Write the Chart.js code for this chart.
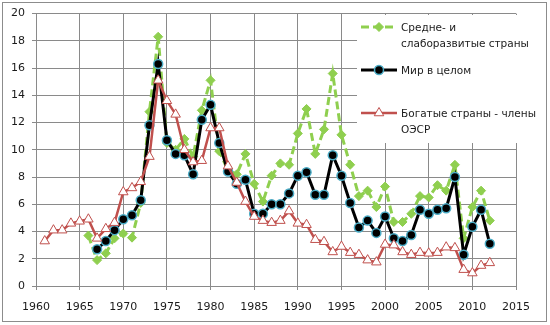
<!DOCTYPE html>
<html>
<head>
<meta charset="utf-8">
<script src="https://cdn.jsdelivr.net/npm/chart.js@4"></script>
<style>
  html, body { margin: 0; padding: 0; background: #fff; }
  #wrap { width: 550px; height: 325px; }
</style>
</head>
<body>
<div id="wrap"><canvas id="c" width="550" height="325"></canvas></div>
<script>
// series names (legend)
const seriesNames = [
  ["Средне- и", "слаборазвитые страны"],
  ["Мир в целом"],
  ["Богатые страны - члены", "ОЭСР"]
];

// middle & low income countries, 1966-2012
const devStart = 1966;
const devValues = [
  3.7, 1.9, 2.4, 3.5, 3.85, 3.55, 6.1, 12.8, 18.3, 10.5,
  10.0, 10.8, 9.5, 12.9, 15.1, 9.9, 8.5, 8.2, 9.7, 7.5,
  6.2, 8.1, 9.0, 8.9, 11.2, 13.0, 9.7, 11.5, 15.6, 11.1,
  8.9, 6.6, 7.0, 5.8, 7.3, 4.7, 4.7, 5.3, 6.6, 6.5,
  7.4, 7.0, 8.9, 3.5, 5.8, 7.0, 4.8
];

// world, 1967-2012
const worldStart = 1967;
const worldValues = [
  2.7, 3.3, 4.1, 4.9, 5.2, 6.3, 11.8, 16.3, 10.7, 9.7,
  9.6, 8.2, 12.2, 13.3, 10.5, 8.4, 7.5, 7.8, 5.3, 5.3,
  6.0, 6.0, 6.8, 8.1, 8.35, 6.7, 6.7, 9.6, 8.1, 6.1,
  4.3, 4.8, 3.9, 5.1, 3.5, 3.3, 3.75, 5.6, 5.3, 5.6,
  5.7, 8.0, 2.3, 4.35, 5.6, 3.1
];

// rich OECD countries, 1961-2012
const oecdStart = 1961;
const oecdValues = [
  3.3, 4.1, 4.1, 4.6, 4.75, 4.9, 3.5, 4.2, 4.65, 6.9,
  7.2, 7.65, 9.5, 15.1, 13.6, 12.6, 10.0, 9.1, 9.2, 11.6,
  11.6, 8.8, 7.6, 6.2, 5.1, 4.8, 4.65, 4.8, 5.5, 4.6,
  4.5, 3.4, 3.25, 2.5, 2.9, 2.45, 2.3, 1.9, 1.75, 3.05,
  3.0, 2.5, 2.3, 2.45, 2.4, 2.45, 2.85, 2.8, 1.2, 0.95,
  1.5, 1.7
];

const xMin = 1960, xMax = 2015, xStep = 5;
const yMin = 0, yMax = 20, yStep = 2;

function toPoints(start, vals) {
  return vals.map((v, i) => ({ x: start + i, y: v }));
}

const FONT = "'DejaVu Sans', sans-serif";
const gridColor = "#8a8a8a";

// draws the outer frame
const framePlugin = {
  id: "frame",
  beforeDraw(chart) {
    const ctx = chart.ctx;
    ctx.save();
    ctx.fillStyle = "#fff";
    ctx.fillRect(0, 0, chart.width, chart.height);
    ctx.strokeStyle = "#8c8c8c";
    ctx.lineWidth = 1;
    ctx.strokeRect(2.5, 2.5, 544, 319);
    ctx.restore();
  }
};

// excel-like legend sitting over the top right of the plot
const legendPlugin = {
  id: "sideLegend",
  afterDatasetsDraw(chart) {
    const ctx = chart.ctx;
    const sampleY = [27, 70, 113];
    ctx.save();
    ctx.fillStyle = "#fff";
    ctx.fillRect(357, 15, 185, 128);
    chart.data.datasets.forEach((ds, i) => {
      const y = sampleY[i];
      ctx.save();
      ctx.strokeStyle = ds.borderColor;
      ctx.lineWidth = ds.borderWidth;
      ctx.setLineDash(ds.borderDash || []);
      ctx.beginPath();
      ctx.moveTo(361, y);
      ctx.lineTo(397, y);
      ctx.stroke();
      ctx.setLineDash([]);
      ctx.fillStyle = ds.pointBackgroundColor;
      ctx.strokeStyle = ds.pointBorderColor;
      ctx.lineWidth = ds.pointBorderWidth;
      Chart.helpers.drawPoint(ctx, {
        pointStyle: ds.pointStyle,
        radius: ds.pointRadius,
        borderWidth: ds.pointBorderWidth,
        rotation: 0
      }, 379, y);
      ctx.restore();
      ctx.fillStyle = "#1a1a1a";
      ctx.font = "10.5px " + FONT;
      ctx.textBaseline = "middle";
      ctx.textAlign = "left";
      seriesNames[i].forEach((t, k) => ctx.fillText(t, 401, y + 1 + k * 16.5));
    });
    ctx.restore();
  }
};

new Chart(document.getElementById("c"), {
  type: "line",
  data: {
    datasets: [
      {
        label: seriesNames[0].join(" "),
        data: toPoints(devStart, devValues),
        borderColor: "#8fcf4f",
        backgroundColor: "#8fcf4f",
        borderWidth: 3,
        borderDash: [8, 4],
        pointStyle: "rectRot",
        pointRadius: 4.5,
        pointBackgroundColor: "#8fcf4f",
        pointBorderColor: "#8fcf4f",
        pointBorderWidth: 1,
        tension: 0,
        order: 3
      },
      {
        label: seriesNames[1].join(" "),
        data: toPoints(worldStart, worldValues),
        borderColor: "#000",
        backgroundColor: "#000",
        borderWidth: 3,
        pointStyle: "circle",
        pointRadius: 4.5,
        pointBackgroundColor: "#000",
        pointBorderColor: "#4bacc6",
        pointBorderWidth: 1.5,
        tension: 0,
        order: 2
      },
      {
        label: seriesNames[2].join(" "),
        data: toPoints(oecdStart, oecdValues),
        borderColor: "#c0504d",
        backgroundColor: "#fff",
        borderWidth: 2.5,
        pointStyle: "triangle",
        pointRadius: 5.5,
        pointBackgroundColor: "#fff",
        pointBorderColor: "#c0504d",
        pointBorderWidth: 1,
        tension: 0,
        order: 1
      }
    ]
  },
  options: {
    responsive: false,
    animation: false,
    layout: { padding: { top: 13, right: 34, left: 0, bottom: 0 } },
    plugins: {
      legend: { display: false },
      tooltip: { enabled: false }
    },
    scales: {
      x: {
        type: "linear",
        min: xMin,
        max: xMax,
        afterFit: s => { s.height = 39; },
        ticks: {
          stepSize: xStep,
          padding: 11,
          color: "#1a1a1a",
          font: { family: FONT, size: 11 },
          callback: v => String(v)
        },
        grid: { color: gridColor, tickLength: 4 },
        border: { color: gridColor }
      },
      y: {
        min: yMin,
        max: yMax,
        afterFit: s => { s.width = 36; },
        ticks: {
          stepSize: yStep,
          padding: 7,
          color: "#1a1a1a",
          font: { family: FONT, size: 11 }
        },
        grid: { color: gridColor, tickLength: 4 },
        border: { color: gridColor }
      }
    }
  },
  plugins: [framePlugin, legendPlugin]
});
</script>
</body>
</html>
